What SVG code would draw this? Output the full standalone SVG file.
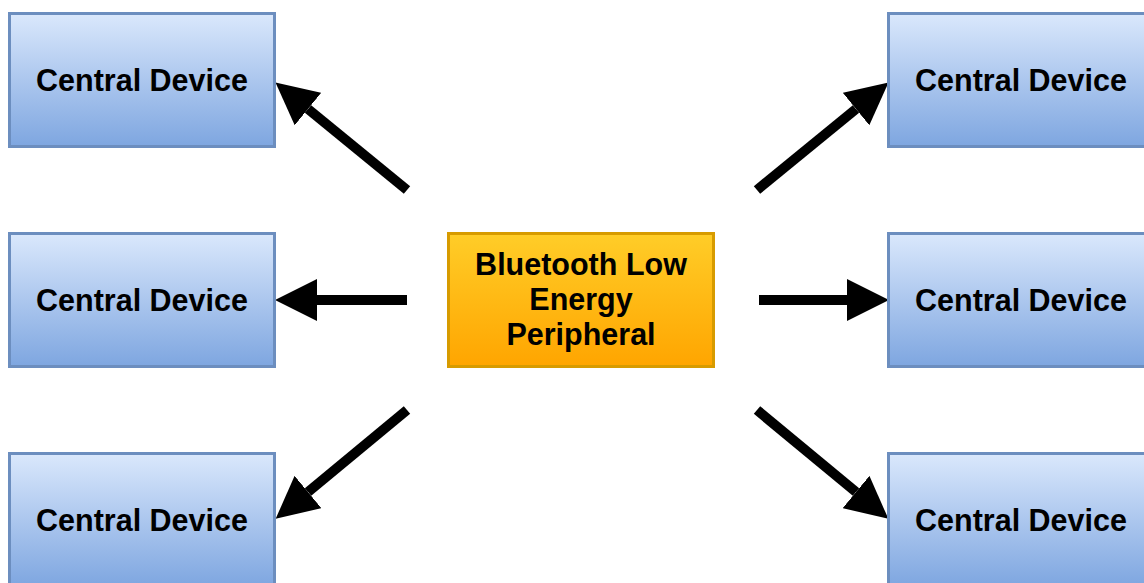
<svg xmlns="http://www.w3.org/2000/svg" width="1144" height="583" viewBox="0 0 1144 583">
<defs>
<linearGradient id="blue" x1="0" y1="0" x2="0" y2="1"><stop offset="0" stop-color="#dae8fc"/><stop offset="1" stop-color="#7ea6e0"/></linearGradient>
<linearGradient id="orange" x1="0" y1="0" x2="0" y2="1"><stop offset="0" stop-color="#ffcd28"/><stop offset="1" stop-color="#ffa500"/></linearGradient>
<marker id="ah" viewBox="0 0 10 10" refX="0" refY="5" markerUnits="userSpaceOnUse" markerWidth="42" markerHeight="42" orient="auto"><path d="M0,0 L10,5 L0,10 Z" fill="#000"/></marker>
<style>
.dev rect{fill:url(#blue);stroke:#6c8ebf;stroke-width:3}
.per rect{fill:url(#orange);stroke:#d79b00;stroke-width:3}
text{font-family:"Liberation Sans",Arial,Helvetica,sans-serif;font-weight:bold;font-size:30.5px;fill:#000;text-anchor:middle}
.c line{stroke:#000;stroke-width:10;marker-end:url(#ah)}
</style>
</defs>
<g class="c" id="connectors">
<line x1="407" y1="190" x2="308" y2="109"/>
<line x1="407" y1="300" x2="317" y2="300"/>
<line x1="407" y1="410" x2="308" y2="492"/>
<line x1="757" y1="190" x2="856" y2="109"/>
<line x1="759" y1="300" x2="847" y2="300"/>
<line x1="757" y1="410" x2="856" y2="492"/>
</g>
<g id="dev1" class="dev"><rect x="9.5" y="13.5" width="265" height="133"/><text x="142" y="91">Central Device</text></g>
<g id="dev2" class="dev"><rect x="9.5" y="233.5" width="265" height="133"/><text x="142" y="311">Central Device</text></g>
<g id="dev3" class="dev"><rect x="9.5" y="453.5" width="265" height="133"/><text x="142" y="531">Central Device</text></g>
<g id="dev4" class="dev"><rect x="888.5" y="13.5" width="265" height="133"/><text x="1021" y="91">Central Device</text></g>
<g id="dev5" class="dev"><rect x="888.5" y="233.5" width="265" height="133"/><text x="1021" y="311">Central Device</text></g>
<g id="dev6" class="dev"><rect x="888.5" y="453.5" width="265" height="133"/><text x="1021" y="531">Central Device</text></g>
<g id="peripheral" class="per"><rect x="448.5" y="233.5" width="265" height="133"/>
<text x="581" y="275">Bluetooth Low</text>
<text x="581" y="310">Energy</text>
<text x="581" y="345">Peripheral</text></g>
</svg>
